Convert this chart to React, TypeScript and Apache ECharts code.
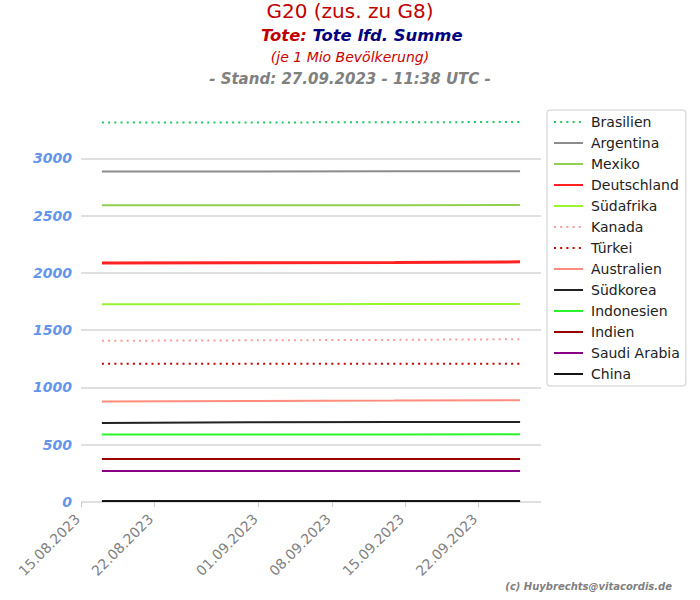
import React, { useEffect, useRef } from "react";
import * as echarts from "echarts";

const FONT = "DejaVu Sans";

// data sampling dates
const dates = ["2023-08-17", "2023-08-31", "2023-09-14", "2023-09-26"];
const tickDates = ["2023-08-15", "2023-08-22", "2023-09-01", "2023-09-08", "2023-09-15", "2023-09-22"];
const axisMinDate = "2023-08-15";
const axisMaxDate = "2023-09-28";
const yTicks = [0, 500, 1000, 1500, 2000, 2500, 3000];

const countries = [
  "Brasilien", "Argentina", "Mexiko", "Deutschland", "Südafrika", "Kanada", "Türkei",
  "Australien", "Südkorea", "Indonesien", "Indien", "Saudi Arabia", "China",
];
const brasilien = [3312, 3313, 3314, 3317];
const argentina = [2884, 2885, 2886, 2886];
const mexiko = [2590, 2591, 2591, 2592];
const deutschland = [2087, 2089, 2091, 2096];
const suedafrika = [1727, 1727, 1728, 1728];
const kanada = [1407, 1411, 1415, 1421];
const tuerkei = [1206, 1206, 1206, 1207];
const australien = [878, 881, 885, 889];
const suedkorea = [689, 697, 698, 698];
const indonesien = [590, 590, 590, 591];
const indien = [375, 375, 375, 375];
const saudiArabia = [270, 270, 270, 270];
const china = [8, 8, 8, 8];

const values = [brasilien, argentina, mexiko, deutschland, suedafrika, kanada, tuerkei,
  australien, suedkorea, indonesien, indien, saudiArabia, china];
const colors = ["#1ec864", "#8c8c8c", "#92d050", "#ff2222", "#99f530", "#ff9a9a", "#cc0000",
  "#ff8c7c", "#222222", "#2af52a", "#990000", "#880088", "#151515"];
const dotted = [true, false, false, false, false, true, true, false, false, false, false, false, false];
const widths = [2, 2, 2, 3, 2, 2, 2, 2, 2, 2, 2, 2, 2];

const ts = (d: string) => {
  const [y, m, day] = d.split("-").map(Number);
  return Date.UTC(y, m - 1, day);
};
const fmt = (v: number) => {
  const d = new Date(v);
  const p = (n: number) => String(n).padStart(2, "0");
  return `${p(d.getUTCDate())}.${p(d.getUTCMonth() + 1)}.${d.getUTCFullYear()}`;
};

export default function App() {
  const ref = useRef<HTMLDivElement>(null);
  useEffect(() => {
    if (!ref.current) return;
    const chart = echarts.init(ref.current, null, { renderer: "svg" });
    const series: any[] = [
      {
        name: "_grid",
        type: "line",
        data: [],
        silent: true,
        z: 0,
        markLine: {
          silent: true,
          z: 0,
          symbol: "none",
          label: { show: false },
          lineStyle: { color: "#d6d6d6", width: 1.5, type: "solid" },
          data: yTicks.map((v) => ({ yAxis: v })),
        },
      },
    ];
    countries.forEach((c, i) => {
      series.push({
        name: c,
        type: "line",
        symbol: "none",
        z: 5,
        color: colors[i],
        lineStyle: { color: colors[i], width: widths[i], type: dotted[i] ? [2, 4.2] : "solid" },
        data: dates.map((d, j) => [ts(d), values[i][j]]),
      });
    });
    chart.setOption({
      animation: false,
      backgroundColor: "#ffffff",
      textStyle: { fontFamily: FONT },
      title: [
        { text: "G20 (zus. zu G8)", left: "center", top: 1, padding: 0,
          textStyle: { fontFamily: FONT, fontSize: 20, fontWeight: "normal", color: "#c00000" } },
        { text: "{a|Tote:} {b|Tote lfd. Summe}", left: 261, top: 27, padding: 0,
          textStyle: { fontFamily: FONT, fontSize: 16, rich: {
            a: { fontFamily: FONT, fontSize: 16.4, fontWeight: "bold", fontStyle: "italic", color: "#c00000" },
            b: { fontFamily: FONT, fontSize: 16.4, fontWeight: "bold", fontStyle: "italic", color: "#000080" },
          } } },
        { text: "(je 1 Mio Bevölkerung)", left: "center", top: 50, padding: 0,
          textStyle: { fontFamily: FONT, fontSize: 14, fontWeight: "normal", fontStyle: "italic", color: "#cc0000" } },
        { text: "- Stand: 27.09.2023 - 11:38 UTC -", left: "center", top: 71, padding: 0,
          textStyle: { fontFamily: FONT, fontSize: 15, fontWeight: "bold", fontStyle: "italic", color: "#808080" } },
      ],
      graphic: [
        { type: "text", right: 28, top: 581,
          style: { text: "(c) Huybrechts@vitacordis.de", fontFamily: FONT, fontSize: 10, fontWeight: "bold",
            fontStyle: "italic", fill: "#808080" } },
      ],
      legend: {
        data: countries,
        orient: "vertical",
        left: 547,
        top: 110,
        padding: [5, 6, 5, 6],
        itemWidth: 29,
        itemHeight: 14,
        itemGap: 7,
        itemStyle: { opacity: 0 },
        backgroundColor: "#ffffff",
        borderColor: "#cccccc",
        borderWidth: 1,
        borderRadius: 3,
        textStyle: { fontFamily: FONT, fontSize: 14, color: "#222222", padding: [0, 0, 0, 3] },
      },
      grid: { left: 81, right: 159, top: 101, bottom: 98, containLabel: false },
      xAxis: {
        type: "value",
        min: ts(axisMinDate),
        max: ts(axisMaxDate),
        axisLine: { show: false },
        splitLine: { show: false },
        axisTick: { show: true, customValues: tickDates.map(ts), length: 5, lineStyle: { color: "#cccccc" } },
        axisLabel: {
          customValues: tickDates.map(ts),
          formatter: (v: number) => fmt(v),
          rotate: 45,
          margin: 11,
          padding: [0, 5, 0, 0],
          fontFamily: FONT,
          fontSize: 14,
          color: "#808080",
        },
      },
      yAxis: {
        type: "value",
        min: 0,
        max: 3500,
        interval: 500,
        axisLine: { show: false },
        axisTick: { show: false },
        splitLine: { show: false },
        axisLabel: {
          showMaxLabel: false,
          formatter: (v: number) => String(v),
          margin: 9,
          fontFamily: FONT,
          fontSize: 14,
          fontWeight: "bold",
          fontStyle: "italic",
          color: "#6495ed",
        },
      },
      series,
    });
    return () => chart.dispose();
  }, []);
  return <div ref={ref} style={{ width: 700, height: 600, position: "absolute", left: 0, top: 0 }} />;
}
